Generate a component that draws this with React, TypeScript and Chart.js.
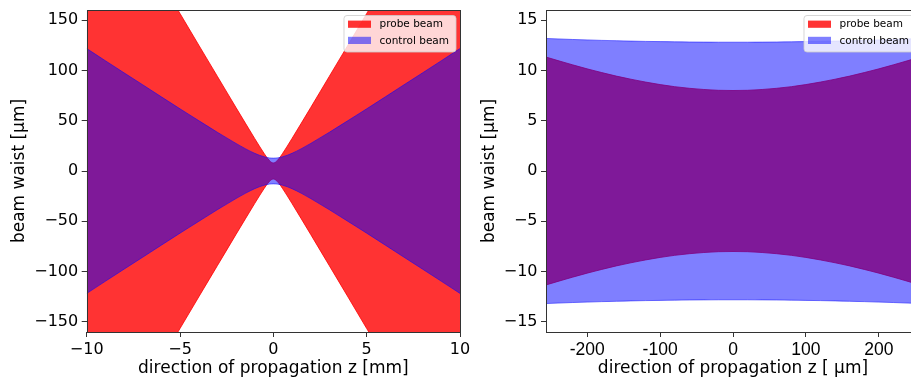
import React, { useEffect, useRef } from "react";
import { Chart, registerables } from "chart.js";

Chart.register(...registerables);

// Wide view: propagation distance z in mm, beam radius in µm
const zWide = [
  -10, -9, -8, -7, -6, -5, -4, -3, -2, -1.5, -1, -0.75, -0.5, -0.4, -0.3, -0.2, -0.1, 0,
  0.1, 0.2, 0.3, 0.4, 0.5, 0.75, 1, 1.5, 2, 3, 4, 5, 6, 7, 8, 9, 10,
];
const probeWide = [
  312.6, 281.4, 250.1, 218.9, 187.7, 156.5, 125.2, 94.1, 63.0, 47.6, 32.3, 24.8, 17.6, 14.8, 12.3, 10.2, 8.6, 8.0,
  8.6, 10.2, 12.3, 14.8, 17.6, 24.8, 32.3, 47.6, 63.0, 94.1, 125.2, 156.5, 187.7, 218.9, 250.1, 281.4, 312.6,
];
const controlWide = [
  121.7, 109.6, 97.6, 85.7, 73.7, 61.8, 50.1, 38.5, 27.4, 22.2, 17.6, 15.7, 14.2, 13.7, 13.3, 13.0, 12.9, 12.8,
  12.9, 13.0, 13.3, 13.7, 14.2, 15.7, 17.6, 22.2, 27.4, 38.5, 50.1, 61.8, 73.7, 85.7, 97.6, 109.6, 121.7,
];

// Close-up around the focus: z in µm, beam radius in µm
const zNarrow = [
  -260, -240, -220, -200, -180, -160, -140, -120, -100, -80, -60, -40, -20, 0,
  20, 40, 60, 80, 100, 120, 140, 160, 180, 200, 220, 240, 260,
];
const probeNarrow = [
  11.40, 10.97, 10.55, 10.15, 9.78, 9.43, 9.12, 8.84, 8.59, 8.38, 8.22, 8.10, 8.02, 8.00,
  8.02, 8.10, 8.22, 8.38, 8.59, 8.84, 9.12, 9.43, 9.78, 10.15, 10.55, 10.97, 11.40,
];
const controlNarrow = [
  13.18, 13.13, 13.07, 13.03, 12.98, 12.95, 12.91, 12.88, 12.86, 12.84, 12.82, 12.81, 12.80, 12.80,
  12.80, 12.81, 12.82, 12.84, 12.86, 12.88, 12.91, 12.95, 12.98, 13.03, 13.07, 13.13, 13.18,
];

// Tick positions
const xTicksWide = [-10, -5, 0, 5, 10];
const yTicksWide = [-150, -100, -50, 0, 50, 100, 150];
const xTicksNarrow = [-200, -100, 0, 100, 200];
const yTicksNarrow = [-15, -10, -5, 0, 5, 10, 15];

const seriesNames = ["probe beam", "control beam"];
const PROBE_COLOR = "rgba(255,0,0,0.8)";
const CONTROL_COLOR = "rgba(0,0,255,0.5)";
const SPINE = "#333333";
const FONT = "'DejaVu Sans', sans-serif";

const minusSign = (v: number) => (v < 0 ? "\u2212" + Math.abs(v) : String(v));
const hyphenSign = (v: number) => String(v);

function band(z: number[], w: number[], color: string, label: string) {
  const common = {
    borderColor: color,
    backgroundColor: color,
    borderWidth: 1,
    pointRadius: 0,
    cubicInterpolationMode: "monotone" as const,
  };
  return [
    { ...common, label, data: z.map((x, i) => ({ x, y: w[i] })), fill: "+1" },
    { ...common, label: label + " (lower)", data: z.map((x, i) => ({ x, y: -w[i] })), fill: false },
  ];
}

// Draws the full axes frame and the in-axes legend
const framePlugin = {
  id: "frameAndLegend",
  afterDraw(chart: any) {
    const { ctx, chartArea: a } = chart;
    ctx.save();
    ctx.strokeStyle = SPINE;
    ctx.lineWidth = 1;
    ctx.strokeRect(Math.round(a.left) + 0.5, Math.round(a.top) + 0.5, Math.round(a.right - a.left), Math.round(a.bottom - a.top));

    const boxW = 112;
    const boxH = 36.5;
    const right = a.right - 4.5;
    const left = right - boxW;
    const top = a.top + 5;
    ctx.beginPath();
    (ctx as any).roundRect(left + 0.5, top + 0.5, boxW, boxH, 3);
    ctx.fillStyle = "rgba(255,255,255,0.8)";
    ctx.fill();
    ctx.strokeStyle = "rgba(204,204,204,0.8)";
    ctx.stroke();

    const colors = [PROBE_COLOR, CONTROL_COLOR];
    const rows = [top + 9.2, top + 25.4];
    ctx.font = `10.5px ${FONT}`;
    ctx.textBaseline = "middle";
    ctx.textAlign = "left";
    seriesNames.forEach((name, i) => {
      ctx.fillStyle = colors[i];
      ctx.fillRect(left + 4.5, rows[i] - 3.6, 23, 7.2);
      ctx.fillStyle = "#000";
      ctx.fillText(name, left + 36, rows[i] + 0.5);
    });
    ctx.restore();
  },
};

function noPad(s: any) {
  s.paddingTop = 0;
  s.paddingBottom = 0;
  s.paddingLeft = 0;
  s.paddingRight = 0;
}

function makeChart(
  canvas: HTMLCanvasElement,
  p: {
    z: number[];
    probe: number[];
    control: number[];
    xMin: number;
    xMax: number;
    yMax: number;
    xTicks: number[];
    yTicks: number[];
    xFmt: (v: number) => string;
    yFmt: (v: number) => string;
    xTickFont: any;
    xTitle: string;
    yAxisWidth: number;
  }
) {
  const datasets = [
    ...band(p.z, p.control, CONTROL_COLOR, seriesNames[1]),
    ...band(p.z, p.probe, PROBE_COLOR, seriesNames[0]),
  ];
  const tickGrid = {
    display: true,
    drawOnChartArea: false,
    drawTicks: true,
    tickLength: 5,
    tickColor: SPINE,
    lineWidth: 1,
  };
  return new Chart(canvas, {
    type: "line",
    data: { datasets: datasets as any },
    plugins: [framePlugin],
    options: {
      animation: false,
      responsive: false,
      layout: { padding: { left: 0, right: 10, top: 10, bottom: 0 } },
      plugins: { legend: { display: false }, tooltip: { enabled: false } },
      scales: {
        x: {
          type: "linear",
          min: p.xMin,
          max: p.xMax,
          grid: tickGrid,
          border: { display: false },
          afterBuildTicks: (s: any) => {
            s.ticks = p.xTicks.map((v) => ({ value: v }));
          },
          afterFit: (s: any) => {
            s.height = 49;
            noPad(s);
          },
          ticks: {
            color: "#000",
            font: p.xTickFont,
            padding: 3,
            maxRotation: 0,
            autoSkip: false,
            callback: (v: any) => p.xFmt(Number(v)),
          },
          title: {
            display: true,
            text: p.xTitle,
            color: "#000",
            font: { family: FONT, size: 17 },
            padding: { top: 0, bottom: 2.5 },
          },
        },
        y: {
          type: "linear",
          min: -p.yMax,
          max: p.yMax,
          grid: tickGrid,
          border: { display: false },
          afterBuildTicks: (s: any) => {
            s.ticks = p.yTicks.map((v) => ({ value: v }));
          },
          afterFit: (s: any) => {
            s.width = p.yAxisWidth;
            noPad(s);
          },
          ticks: {
            color: "#000",
            font: { family: FONT, size: 16 },
            padding: 3.5,
            autoSkip: false,
            callback: (v: any) => p.yFmt(Number(v)),
          },
          title: {
            display: true,
            text: "beam waist [\u03bcm]",
            color: "#000",
            font: { family: FONT, size: 17 },
            padding: { top: 9, bottom: 0 },
          },
        },
      },
    },
  });
}

export default function App() {
  const wideRef = useRef<HTMLCanvasElement>(null);
  const narrowRef = useRef<HTMLCanvasElement>(null);

  useEffect(() => {
    const charts: Chart[] = [];
    if (wideRef.current) {
      charts.push(
        makeChart(wideRef.current, {
          z: zWide,
          probe: probeWide,
          control: controlWide,
          xMin: -10,
          xMax: 10,
          yMax: 160,
          xTicks: xTicksWide,
          yTicks: yTicksWide,
          xFmt: minusSign,
          yFmt: minusSign,
          xTickFont: { family: FONT, size: 16 },
          xTitle: "direction of propagation z [mm]",
          yAxisWidth: 86.7,
        })
      );
    }
    if (narrowRef.current) {
      charts.push(
        makeChart(narrowRef.current, {
          z: zNarrow,
          probe: probeNarrow,
          control: controlNarrow,
          xMin: -256.5,
          xMax: 256.5,
          yMax: 16,
          xTicks: xTicksNarrow,
          yTicks: yTicksNarrow,
          xFmt: hyphenSign,
          yFmt: minusSign,
          xTickFont: { family: "'Liberation Sans', Arial, sans-serif", size: 17.5 },
          xTitle: "direction of propagation z [ \u03bcm]",
          yAxisWidth: 76,
        })
      );
    }
    return () => charts.forEach((c) => c.destroy());
  }, []);

  return (
    <div
      style={{
        position: "absolute",
        left: 0,
        top: 0,
        width: 911,
        height: 381,
        overflow: "hidden",
        background: "#fff",
      }}
    >
      <canvas
        ref={wideRef}
        width={470}
        height={381}
        style={{ position: "absolute", left: 0, top: 0, width: 470, height: 381 }}
      />
      <canvas
        ref={narrowRef}
        width={460}
        height={381}
        style={{ position: "absolute", left: 470, top: 0, width: 460, height: 381 }}
      />
    </div>
  );
}
